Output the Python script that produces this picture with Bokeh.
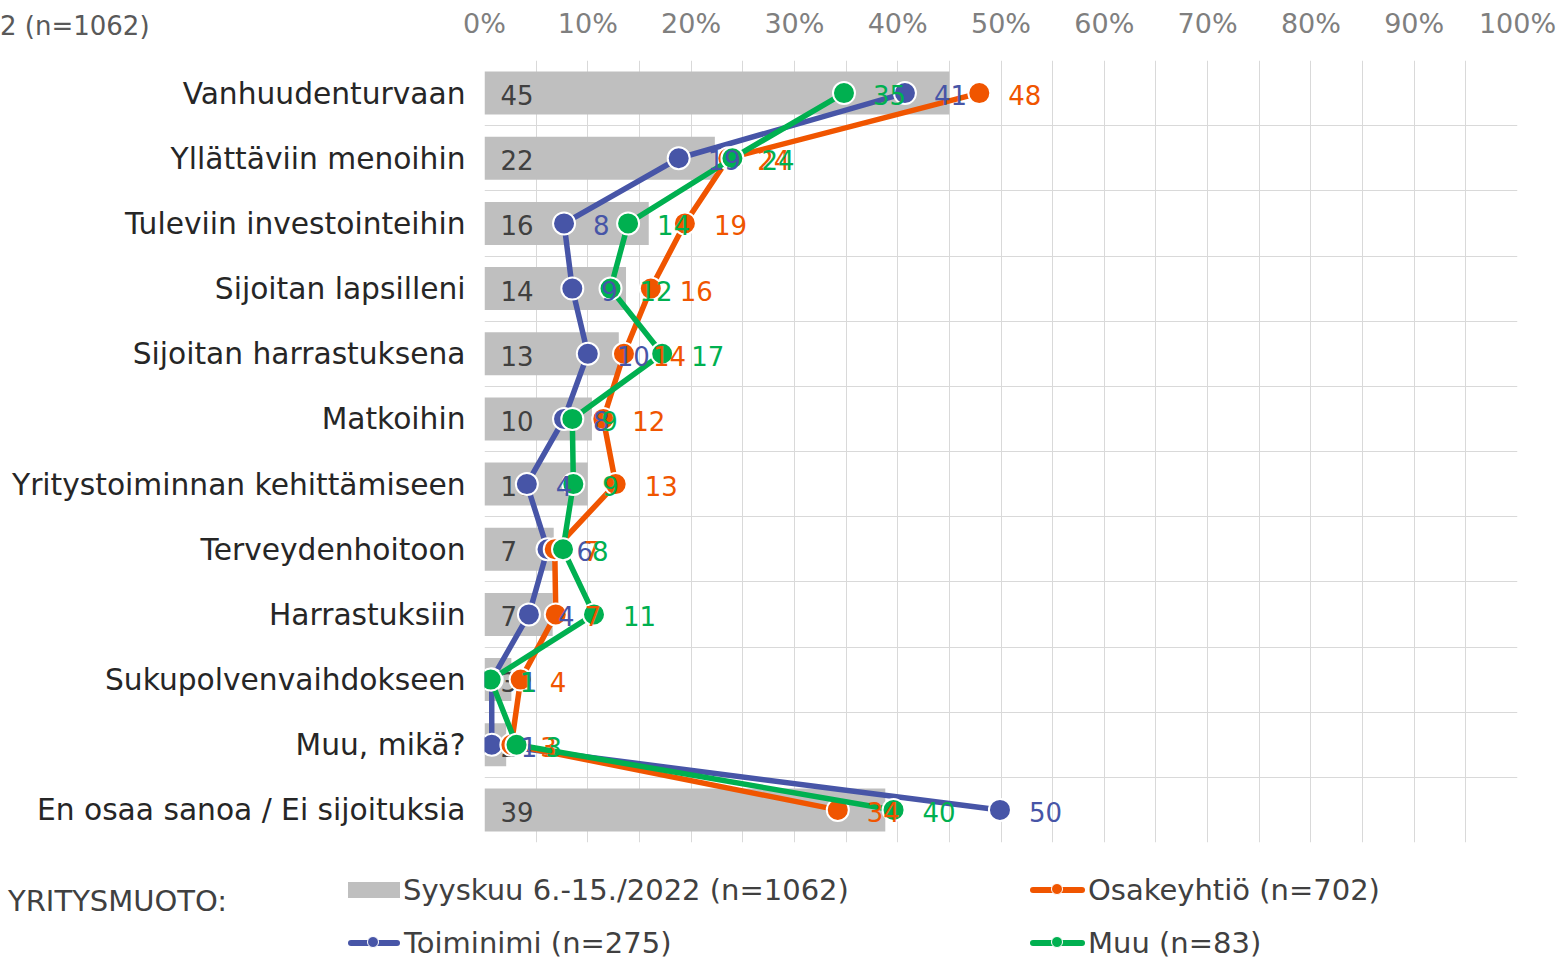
from bokeh.plotting import figure
from bokeh.models import Range1d, FixedTicker, ColumnDataSource, Div
from bokeh.layouts import column
from bokeh.core.properties import value
from bokeh.embed import file_html
from bokeh.resources import INLINE

categories = ["Vanhuudenturvaan", "Yllättäviin menoihin", "Tuleviin investointeihin",
              "Sijoitan lapsilleni", "Sijoitan harrastuksena", "Matkoihin",
              "Yritystoiminnan kehittämiseen", "Terveydenhoitoon", "Harrastuksiin",
              "Sukupolvenvaihdokseen", "Muu, mikä?", "En osaa sanoa / Ei sijoituksia"]
total = [45.0, 22.3, 15.9, 13.7, 13.0, 10.4, 10.0, 6.7, 6.6, 2.6, 2.1, 38.8]
toiminimi = [40.7, 18.8, 7.7, 8.5, 10.0, 7.7, 4.1, 6.1, 4.3, 0.7, 0.7, 49.9]
osakeyhtio = [47.9, 23.6, 19.4, 16.1, 13.5, 11.5, 12.7, 6.8, 6.9, 3.5, 2.6, 34.2]
muu = [34.8, 24.0, 13.9, 12.2, 17.2, 8.5, 8.6, 7.6, 10.6, 0.6, 3.1, 39.6]
x_ticks = [0, 10, 20, 30, 40, 50, 60, 70, 80, 90, 100]
title_text = "2 (n=1062)"
legend_title = "YRITYSMUOTO:"
name_total = "Syyskuu 6.-15./2022 (n=1062)"
name_osake = "Osakeyhtiö (n=702)"
name_toim = "Toiminimi (n=275)"
name_muu = "Muu (n=83)"

FONT = "DejaVu Sans"
GRAY_BAR = "#BFBFBF"
BLUE = "#4755A7"
ORANGE = "#F05500"
GREEN = "#00B050"
TXT = "#404040"

n = len(categories)
ys = [n - 1 - i for i in range(n)]

def lbl(v):
    return str(int(v + 0.5))

# ---------------- main chart ----------------
p = figure(width=1560, height=959, output_backend="svg", toolbar_location=None,
           x_range=Range1d(0, 100), y_range=Range1d(-0.5, n - 0.5),
           x_axis_location="above",
           min_border_left=484, min_border_right=43, min_border_top=60, min_border_bottom=117)
p.outline_line_color = None

xa = p.xaxis[0]
xa.ticker = FixedTicker(ticks=x_ticks)
xa.major_label_overrides = {t: f"{t}%" for t in x_ticks}
xa.axis_line_color = None
xa.major_tick_line_color = None
xa.minor_tick_line_color = None
xa.major_label_text_font = FONT
xa.major_label_text_font_size = "27px"
xa.major_label_text_color = "#7F7F7F"
xa.major_label_standoff = 16

ya = p.yaxis[0]
ya.ticker = FixedTicker(ticks=ys)
ya.major_label_overrides = {y: c for y, c in zip(ys, categories)}
ya.axis_line_color = None
ya.major_tick_line_color = None
ya.minor_tick_line_color = None
ya.major_label_text_font = FONT
ya.major_label_text_font_size = "29.7px"
ya.major_label_text_color = "#262626"
ya.major_label_standoff = 13

p.xgrid.ticker = FixedTicker(ticks=list(range(0, 101, 5)))
p.ygrid.ticker = FixedTicker(ticks=[y + 0.5 for y in range(-1, n)])
p.xgrid.grid_line_color = "#D9D9D9"
p.ygrid.grid_line_color = "#D9D9D9"

src = ColumnDataSource(dict(y=ys, total=total, lab=[lbl(v) for v in total], zero=[0] * n))
p.hbar(y="y", left=0, right="total", height=0.66, source=src,
       fill_color=GRAY_BAR, line_color=None)
p.text(x="zero", y="y", text="lab", source=src, x_offset=16, y_offset=2,
       text_font=value(FONT), text_font_size="26px", text_color=TXT,
       text_baseline="middle", text_align="left")

series = [(toiminimi, BLUE), (osakeyhtio, ORANGE), (muu, GREEN)]
srcs = []
for vals, col in series:
    s = ColumnDataSource(dict(x=vals, y=ys, lab=[lbl(v) for v in vals]))
    p.line(x="x", y="y", source=s, line_color=col, line_width=5.5, line_join="round")
    p.scatter(x="x", y="y", source=s, size=22, fill_color=col, line_color="white", line_width=2)
    srcs.append((s, col))
for s, col in srcs:
    p.text(x="x", y="y", text="lab", source=s, x_offset=29, y_offset=2,
           text_font=value(FONT), text_font_size="26px", text_color=col,
           text_baseline="middle", text_align="left")

# ---------------- title + legend overlay (HTML text) ----------------
def txt(t, left, cy, size, color):
    return (f'<div style="position:absolute;left:{left}px;top:{cy - 20}px;height:40px;'
            f'line-height:40px;font-size:{size}px;color:{color};white-space:nowrap;">{t}</div>')

def swatch(left, cy):
    return (f'<div style="position:absolute;left:{left}px;top:{cy - 8}px;width:52px;height:16px;'
            f'background:{GRAY_BAR};"></div>')

def line_key(left, cy, width, color):
    return (f'<div style="position:absolute;left:{left}px;top:{cy - 3}px;width:{width}px;height:6px;'
            f'border-radius:3px;background:{color};"></div>'
            f'<div style="position:absolute;left:{left + width / 2 - 7}px;top:{cy - 7}px;width:12px;height:12px;'
            f'border-radius:50%;background:{color};border:1px solid white;"></div>')

parts = [
    txt(title_text, 0, 26, 26, "#595959"),
    txt(legend_title, 8, 901, 29, TXT),
    swatch(348, 890), txt(name_total, 403, 890, 29, TXT),
    line_key(1030, 890, 55, ORANGE), txt(name_osake, 1088, 890, 29, TXT),
    line_key(348, 943, 52, BLUE), txt(name_toim, 404, 943, 29, TXT),
    line_key(1030, 943, 55, GREEN), txt(name_muu, 1088, 943, 29, TXT),
]
html = (f'<div style="position:relative;width:1560px;height:959px;font-family:\'{FONT}\';">'
        + "".join(parts) + '</div>')
overlay = Div(text=html, margin=0,
              styles={"position": "absolute", "left": "0px", "top": "0px", "margin": "0px",
                      "padding": "0px", "z-index": "10", "pointer-events": "none"})

layout = column(p, overlay, spacing=0)
open("out.html", "w").write(file_html(layout, INLINE))
